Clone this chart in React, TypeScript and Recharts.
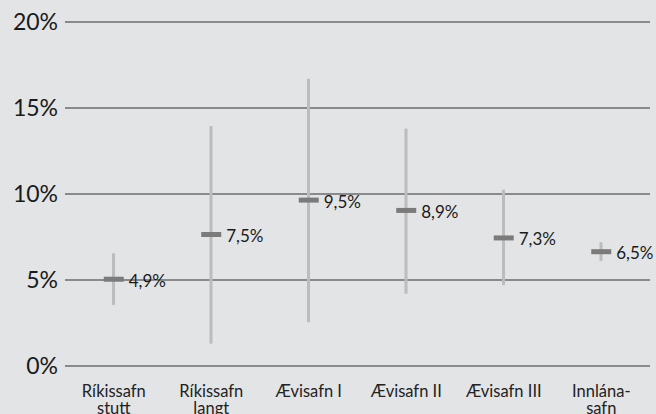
import React from 'react';
import { ComposedChart, Bar, Line, XAxis, YAxis, CartesianGrid } from 'recharts';

const categories = ['Ríkissafn\nstutt', 'Ríkissafn\nlangt', 'Ævisafn I', 'Ævisafn II', 'Ævisafn III', 'Innlána-\nsafn'];
const lowValues = [3.55, 1.3, 2.55, 4.2, 4.7, 6.1];
const highValues = [6.55, 13.95, 16.7, 13.8, 10.25, 7.2];
const meanValues = [4.9, 7.5, 9.5, 8.9, 7.3, 6.5];
const yTicks = [0, 5, 10, 15, 20];

const data = categories.map((c, i) => ({
  name: c,
  range: [lowValues[i], highValues[i]],
  mean: meanValues[i],
}));

const FONT = 'Lato, "Open Sans", sans-serif';
const BG = '#e3e4e6';

const fmt = (v: number) => v.toFixed(1).replace('.', ',') + '%';

const CatTick = (props: any) => {
  const { x, y, payload } = props;
  const lines = String(payload.value).split('\n');
  return (
    <text x={x} y={y + 31} textAnchor="middle" fontFamily={FONT} fontSize={16.5} fill="#222">
      {lines.map((l, i) => (
        <tspan key={i} x={x} dy={i === 0 ? 0 : 17}>{l}</tspan>
      ))}
    </text>
  );
};

const Marker = (props: any) => {
  const { cx, cy, payload } = props;
  if (cx == null || cy == null) return null;
  return (
    <g key={`m-${props.index}`}>
      <rect x={cx - 10} y={cy - 5} width={20} height={5} fill="#7b7b7b" />
      <text x={cx + 15} y={cy + 5} fontFamily={FONT} fontSize={17} fill="#1a1a1a">
        {fmt(payload.mean)}
      </text>
    </g>
  );
};

export default function App() {
  return (
    <div style={{ position: 'absolute', left: 0, top: 0, width: 656, height: 414, background: BG, overflow: 'hidden' }}>
      <ComposedChart width={656} height={414} data={data} margin={{ top: 22, right: 6, bottom: 0, left: 0 }}>
        <CartesianGrid vertical={false} stroke="#8a8a8a" strokeWidth={2} />
        <XAxis
          dataKey="name"
          axisLine={false}
          tickLine={false}
          tickSize={0}
          tickMargin={0}
          height={48}
          interval={0}
          tick={<CatTick />}
        />
        <YAxis
          domain={[0, 20]}
          ticks={yTicks}
          axisLine={false}
          tickLine={false}
          tickSize={0}
          tickMargin={7}
          width={65}
          tickFormatter={(v: number) => `${v}%`}
          tick={{ fontFamily: FONT, fontSize: 23, fill: '#1a1a1a' }}
        />
        <Bar dataKey="range" barSize={3} fill="#bcbcbc" isAnimationActive={false} />
        <Line dataKey="mean" stroke="none" dot={<Marker />} activeDot={false} isAnimationActive={false} />
      </ComposedChart>
    </div>
  );
}
